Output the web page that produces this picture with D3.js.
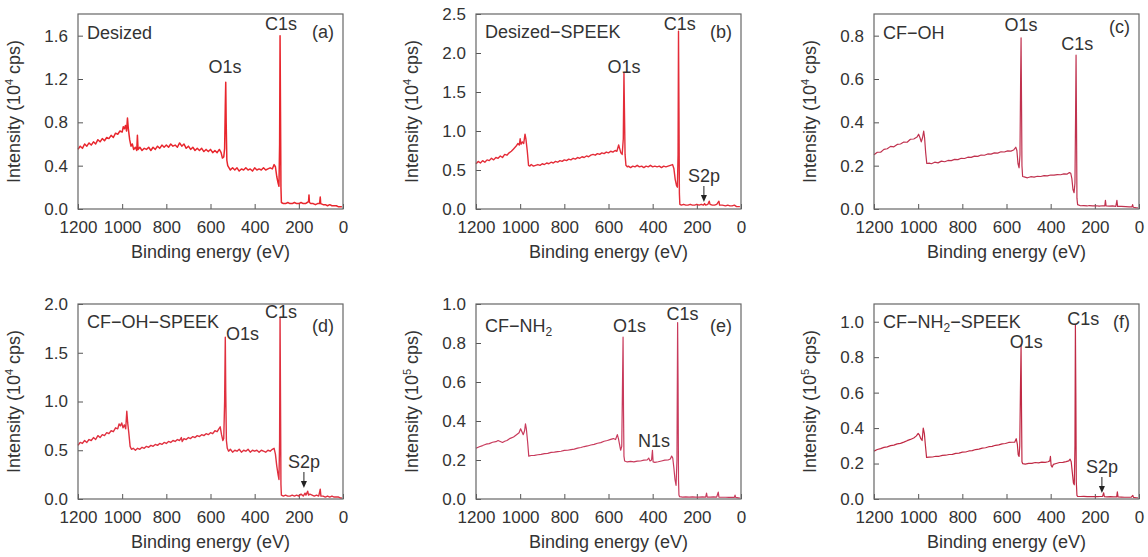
<!DOCTYPE html>
<html>
<head>
  <meta charset="utf8">
  <script src="https://d3js.org/d3.v7.min.js"></script>
  <style>
    body { margin: 0; background: #fff; }
    text { font-family: "Liberation Sans", Arial, sans-serif; fill: #333; }
    .tick text { font-size: 17px; }
    .lbl { font-size: 18px; }
  </style>
</head>
<body>
  <svg id="chart" width="1148" height="557"></svg>
  <script>
    // binding energy (eV), intensity
    var desized = [[1200,0.55],[1190,0.58],[1180,0.56],[1170,0.60],[1160,0.58],[1150,0.61],[1140,0.59],[1130,0.62],[1120,0.60],[1110,0.64],[1100,0.62],[1090,0.65],[1080,0.63],[1070,0.66],[1060,0.65],[1050,0.68],[1040,0.66],[1030,0.70],[1020,0.69],[1010,0.72],[1000,0.71],[995,0.76],[990,0.74],[985,0.77],[980,0.72],[976,0.84],[972,0.74],[966,0.64],[960,0.58],[954,0.60],[948,0.55],[940,0.57],[934,0.54],[931,0.68],[928,0.55],[920,0.57],[910,0.54],[900,0.56],[890,0.55],[880,0.57],[870,0.54],[860,0.57],[850,0.55],[840,0.58],[830,0.56],[820,0.59],[810,0.57],[800,0.59],[790,0.57],[780,0.60],[770,0.58],[760,0.59],[750,0.57],[740,0.61],[730,0.58],[720,0.60],[710,0.56],[700,0.58],[690,0.55],[680,0.57],[670,0.54],[660,0.56],[650,0.54],[640,0.56],[630,0.53],[620,0.55],[610,0.53],[600,0.55],[590,0.52],[580,0.54],[570,0.52],[560,0.55],[552,0.52],[546,0.47],[540,0.48],[536,0.56],[533,0.95],[531,1.17],[529,0.80],[526,0.45],[522,0.40],[516,0.38],[510,0.36],[500,0.38],[490,0.36],[480,0.38],[470,0.35],[460,0.37],[450,0.36],[440,0.38],[430,0.36],[420,0.37],[410,0.35],[400,0.38],[390,0.36],[380,0.37],[370,0.36],[360,0.38],[350,0.36],[340,0.37],[330,0.38],[320,0.37],[312,0.41],[306,0.39],[300,0.30],[294,0.24],[290,0.21],[287,0.60],[285,1.60],[283,0.90],[281,0.20],[279,0.06],[270,0.05],[260,0.05],[250,0.06],[240,0.05],[230,0.05],[220,0.06],[210,0.05],[200,0.05],[190,0.06],[180,0.05],[170,0.05],[162,0.06],[156,0.07],[154,0.13],[152,0.06],[145,0.05],[135,0.05],[125,0.04],[115,0.05],[106,0.05],[103,0.11],[101,0.05],[90,0.04],[80,0.04],[70,0.03],[60,0.04],[50,0.03],[40,0.03],[30,0.03],[20,0.02],[10,0.02],[5,0.02]];

    var desizedSpeek = [[1200,0.58],[1190,0.61],[1180,0.59],[1170,0.62],[1160,0.60],[1150,0.63],[1140,0.62],[1130,0.65],[1120,0.63],[1110,0.66],[1100,0.65],[1090,0.68],[1080,0.66],[1070,0.70],[1060,0.69],[1050,0.72],[1040,0.74],[1030,0.77],[1020,0.80],[1010,0.84],[1004,0.82],[1000,0.90],[996,0.83],[990,0.86],[984,0.84],[978,0.96],[974,0.90],[968,0.75],[962,0.56],[956,0.55],[950,0.57],[940,0.55],[930,0.56],[920,0.57],[910,0.56],[900,0.58],[890,0.57],[880,0.59],[870,0.58],[860,0.60],[850,0.59],[840,0.61],[830,0.60],[820,0.62],[810,0.61],[800,0.63],[790,0.62],[780,0.64],[770,0.63],[760,0.65],[750,0.64],[740,0.66],[730,0.65],[720,0.67],[710,0.66],[700,0.68],[690,0.67],[680,0.69],[670,0.70],[660,0.69],[650,0.71],[640,0.70],[630,0.72],[620,0.71],[610,0.73],[600,0.72],[590,0.74],[580,0.73],[570,0.75],[562,0.74],[554,0.82],[550,0.78],[544,0.72],[538,0.70],[533,0.90],[530,1.74],[528,1.30],[525,0.70],[521,0.56],[515,0.54],[510,0.55],[500,0.53],[490,0.55],[480,0.54],[470,0.56],[460,0.54],[450,0.55],[440,0.53],[430,0.55],[420,0.54],[410,0.56],[400,0.54],[390,0.55],[380,0.54],[370,0.55],[360,0.53],[350,0.55],[340,0.54],[330,0.55],[320,0.56],[310,0.57],[304,0.52],[298,0.38],[292,0.30],[288,0.28],[285,0.70],[283,2.28],[281,1.30],[279,0.20],[277,0.06],[270,0.05],[260,0.06],[250,0.05],[240,0.05],[230,0.06],[220,0.05],[210,0.05],[200,0.06],[190,0.05],[180,0.06],[170,0.05],[165,0.07],[160,0.05],[150,0.06],[144,0.10],[140,0.06],[130,0.05],[120,0.05],[110,0.06],[100,0.10],[97,0.05],[85,0.05],[70,0.04],[60,0.05],[50,0.04],[40,0.04],[30,0.05],[20,0.03],[10,0.03],[5,0.03]];

    var cfOh = [[1200,0.25],[1185,0.262],[1170,0.262],[1155,0.275],[1140,0.278],[1125,0.289],[1110,0.287],[1095,0.298],[1080,0.300],[1065,0.309],[1050,0.308],[1035,0.322],[1020,0.323],[1005,0.332],[998,0.345],[992,0.33],[986,0.31],[980,0.33],[975,0.36],[971,0.33],[966,0.26],[961,0.21],[950,0.212],[940,0.209],[925,0.216],[910,0.213],[895,0.221],[880,0.218],[865,0.224],[850,0.223],[835,0.229],[820,0.228],[805,0.234],[790,0.233],[775,0.239],[760,0.238],[745,0.244],[730,0.243],[715,0.249],[700,0.248],[685,0.254],[670,0.253],[655,0.259],[640,0.258],[625,0.264],[610,0.263],[595,0.268],[580,0.267],[568,0.272],[558,0.285],[553,0.27],[548,0.21],[543,0.19],[539,0.25],[536,0.60],[534,0.79],[532,0.50],[530,0.20],[527,0.15],[520,0.148],[505,0.144],[490,0.149],[475,0.147],[460,0.151],[445,0.150],[430,0.154],[415,0.153],[400,0.157],[385,0.156],[370,0.159],[355,0.158],[340,0.162],[325,0.161],[315,0.168],[309,0.165],[304,0.14],[299,0.09],[294,0.075],[290,0.12],[287,0.45],[285,0.71],[283,0.40],[281,0.05],[278,0.02],[265,0.015],[250,0.016],[235,0.014],[225,0.016],[210,0.014],[195,0.015],[180,0.013],[165,0.015],[155,0.014],[152,0.04],[149,0.014],[135,0.013],[120,0.014],[105,0.012],[100,0.04],[97,0.012],[80,0.012],[60,0.011],[45,0.01],[32,0.01],[29,0.02],[26,0.008],[15,0.006],[5,0.005]];

    var cfOhSpeek = [[1200,0.55],[1190,0.58],[1180,0.57],[1170,0.60],[1160,0.58],[1150,0.61],[1140,0.60],[1130,0.63],[1120,0.61],[1110,0.65],[1100,0.63],[1090,0.66],[1080,0.65],[1070,0.68],[1060,0.67],[1050,0.70],[1040,0.69],[1030,0.73],[1020,0.72],[1014,0.77],[1008,0.75],[1002,0.78],[996,0.73],[990,0.76],[984,0.72],[979,0.90],[975,0.78],[970,0.68],[964,0.54],[958,0.51],[950,0.52],[940,0.50],[930,0.52],[920,0.51],[910,0.53],[900,0.52],[890,0.54],[880,0.53],[870,0.55],[860,0.54],[850,0.56],[840,0.55],[830,0.57],[820,0.56],[810,0.58],[800,0.57],[790,0.59],[780,0.58],[770,0.60],[760,0.59],[750,0.61],[740,0.60],[732,0.63],[728,0.59],[720,0.62],[710,0.61],[700,0.63],[690,0.62],[680,0.64],[670,0.63],[660,0.65],[650,0.64],[640,0.66],[630,0.65],[620,0.67],[610,0.66],[600,0.68],[590,0.67],[580,0.70],[570,0.69],[562,0.72],[556,0.74],[550,0.66],[544,0.60],[540,0.62],[536,1.00],[533,1.66],[531,1.10],[528,0.60],[524,0.52],[518,0.49],[510,0.51],[500,0.48],[490,0.50],[480,0.49],[470,0.51],[460,0.48],[450,0.50],[440,0.49],[430,0.51],[420,0.48],[410,0.50],[400,0.49],[390,0.50],[380,0.48],[370,0.50],[360,0.49],[350,0.48],[340,0.50],[330,0.49],[320,0.51],[312,0.52],[306,0.46],[300,0.34],[294,0.25],[290,0.20],[287,0.60],[285,1.86],[283,1.00],[281,0.15],[279,0.04],[270,0.03],[260,0.04],[250,0.03],[240,0.03],[230,0.04],[220,0.03],[210,0.04],[200,0.03],[190,0.05],[180,0.03],[172,0.06],[168,0.04],[160,0.08],[156,0.04],[150,0.05],[140,0.04],[130,0.03],[120,0.04],[110,0.03],[103,0.10],[100,0.03],[90,0.03],[80,0.02],[70,0.03],[60,0.02],[50,0.03],[40,0.02],[30,0.02],[20,0.02],[10,0.01],[5,0.01]];

    var cfNh2 = [[1200,0.26],[1185,0.268],[1170,0.274],[1155,0.281],[1140,0.284],[1125,0.291],[1110,0.294],[1100,0.30],[1090,0.295],[1080,0.29],[1070,0.296],[1060,0.30],[1045,0.311],[1030,0.318],[1015,0.331],[1005,0.34],[998,0.36],[992,0.345],[986,0.33],[980,0.35],[976,0.385],[972,0.36],[966,0.29],[961,0.22],[950,0.223],[935,0.224],[920,0.227],[905,0.229],[890,0.233],[875,0.234],[860,0.239],[845,0.24],[830,0.243],[815,0.245],[800,0.249],[785,0.25],[770,0.253],[755,0.256],[740,0.261],[725,0.264],[710,0.269],[695,0.272],[680,0.277],[665,0.28],[650,0.286],[635,0.289],[620,0.296],[605,0.30],[590,0.306],[578,0.31],[568,0.305],[560,0.33],[555,0.31],[550,0.28],[545,0.25],[540,0.27],[537,0.55],[534,0.83],[532,0.45],[530,0.22],[527,0.195],[515,0.19],[500,0.193],[485,0.19],[470,0.194],[455,0.195],[440,0.199],[425,0.20],[418,0.21],[412,0.195],[405,0.20],[401,0.25],[398,0.19],[390,0.188],[375,0.191],[360,0.195],[345,0.199],[330,0.20],[320,0.205],[314,0.22],[309,0.21],[304,0.16],[299,0.10],[294,0.07],[290,0.20],[287,0.905],[285,0.60],[283,0.10],[281,0.02],[278,0.012],[265,0.01],[250,0.011],[235,0.01],[220,0.011],[205,0.01],[190,0.01],[175,0.011],[160,0.01],[156,0.03],[153,0.01],[140,0.01],[125,0.011],[110,0.01],[103,0.035],[100,0.01],[85,0.009],[70,0.009],[55,0.008],[40,0.008],[30,0.008],[27,0.02],[24,0.008],[12,0.006],[5,0.005]];

    var cfNh2Speek = [[1200,0.27],[1185,0.279],[1170,0.284],[1155,0.291],[1140,0.294],[1125,0.301],[1110,0.304],[1095,0.311],[1080,0.314],[1065,0.321],[1050,0.329],[1035,0.336],[1020,0.344],[1008,0.356],[1000,0.37],[994,0.36],[988,0.34],[982,0.33],[977,0.40],[972,0.37],[967,0.30],[962,0.235],[950,0.236],[935,0.237],[920,0.241],[905,0.241],[890,0.246],[875,0.247],[860,0.251],[845,0.252],[830,0.257],[815,0.259],[800,0.264],[785,0.265],[770,0.271],[755,0.273],[740,0.279],[725,0.281],[710,0.287],[695,0.289],[680,0.295],[665,0.297],[650,0.303],[635,0.305],[620,0.311],[605,0.313],[590,0.319],[575,0.32],[563,0.32],[556,0.34],[551,0.31],[547,0.25],[543,0.24],[540,0.30],[537,0.60],[534,0.87],[532,0.50],[530,0.21],[527,0.20],[515,0.197],[500,0.201],[485,0.201],[470,0.206],[455,0.204],[440,0.208],[425,0.207],[412,0.21],[404,0.215],[401,0.24],[398,0.19],[393,0.18],[388,0.195],[375,0.20],[360,0.206],[345,0.207],[330,0.211],[318,0.215],[312,0.225],[307,0.21],[302,0.15],[297,0.09],[293,0.08],[290,0.30],[288,0.98],[286,0.60],[284,0.10],[281,0.02],[278,0.015],[265,0.014],[250,0.015],[235,0.013],[220,0.014],[205,0.013],[190,0.013],[175,0.014],[165,0.015],[160,0.035],[157,0.013],[145,0.012],[130,0.013],[115,0.012],[101,0.012],[98,0.04],[95,0.012],[80,0.011],[65,0.01],[50,0.01],[35,0.01],[28,0.02],[25,0.009],[12,0.007],[5,0.006]];

    var xTicks = [1200, 1000, 800, 600, 400, 200, 0];

    var panels = [
      { data: desized, left: 78, top: 14, ymax: 1.8, step: 0.4, exp: '4', color: '#e8262d', sw: 1.5,
        name: 'Desized', tag: '(a)', nameTop: 25, tagTop: 24,
        peaks: [{ t: 'O1s', x: 534, top: 59 }, { t: 'C1s', x: 281, top: 16 }] },
      { data: desizedSpeek, left: 476, top: 14, ymax: 2.5, step: 0.5, exp: '4', color: '#e42c38', sw: 1.4,
        name: 'Desized\u2212SPEEK', tag: '(b)', nameTop: 24, tagTop: 24,
        peaks: [{ t: 'O1s', x: 530, top: 59 }, { t: 'C1s', x: 277, top: 16 }],
        arrow: { x: 168, top: 168 } },
      { data: cfOh, left: 874, top: 14, ymax: 0.9, step: 0.2, exp: '4', color: '#c0324f', sw: 1.2,
        name: 'CF\u2212OH', tag: '(c)', nameTop: 25, tagTop: 19,
        peaks: [{ t: 'O1s', x: 534, top: 17 }, { t: 'C1s', x: 280, top: 36 }] },
      { data: cfOhSpeek, left: 78, top: 304, ymax: 2.0, step: 0.5, exp: '4', color: '#e0303f', sw: 1.4,
        name: 'CF\u2212OH\u2212SPEEK', tag: '(d)', nameTop: 24, tagTop: 28,
        peaks: [{ t: 'O1s', x: 455, top: 36 }, { t: 'C1s', x: 281, top: 14 }],
        arrow: { x: 177, top: 164 } },
      { data: cfNh2, left: 476, top: 304, ymax: 1.0, step: 0.2, exp: '5', color: '#c83a5c', sw: 1.2,
        name: 'CF\u2212NH', sub: '2', tag: '(e)', nameTop: 28, tagTop: 28,
        peaks: [{ t: 'O1s', x: 505, top: 28 }, { t: 'C1s', x: 265, top: 16 }, { t: 'N1s', x: 394, top: 143 }] },
      { data: cfNh2Speek, left: 874, top: 304, ymax: 1.1, step: 0.2, exp: '5', color: '#c02a45', sw: 1.2,
        name: 'CF\u2212NH', sub: '2', tail: '\u2212SPEEK', tag: '(f)', nameTop: 24, tagTop: 24,
        peaks: [{ t: 'O1s', x: 511, top: 44 }, { t: 'C1s', x: 252, top: 21 }],
        arrow: { x: 168, top: 169 } }
    ];

    var W = 265, H = 195;
    var svg = d3.select('#chart');

    panels.forEach(function (p) {
      var g = svg.append('g').attr('transform', 'translate(' + p.left + ',' + p.top + ')');
      var x = d3.scaleLinear().domain([1200, 0]).range([0, W]);
      var y = d3.scaleLinear().domain([0, p.ymax]).range([H, 0]);
      var yTicks = d3.range(0, p.ymax + 1e-9, p.step);

      g.append('g')
        .attr('transform', 'translate(0,' + H + ')')
        .call(d3.axisBottom(x).tickValues(xTicks).tickFormat(d3.format('d')).tickSizeInner(-5).tickSizeOuter(0).tickPadding(12))
        .call(function (a) { a.select('.domain').remove(); a.selectAll('line').attr('stroke', '#555'); });

      g.append('g')
        .call(d3.axisLeft(y).tickValues(yTicks).tickFormat(d3.format('.1f')).tickSizeInner(-5).tickSizeOuter(0).tickPadding(10))
        .call(function (a) { a.select('.domain').remove(); a.selectAll('line').attr('stroke', '#555'); });

      g.selectAll('.tick text').attr('fill', '#333').attr('font-family', null);

      var line = d3.line().x(function (d) { return x(d[0]); }).y(function (d) { return y(d[1]); });
      g.append('path')
        .datum(p.data)
        .attr('fill', 'none')
        .attr('stroke', p.color)
        .attr('stroke-width', p.sw)
        .attr('stroke-linejoin', 'round')
        .attr('d', line);

      g.append('rect')
        .attr('width', W).attr('height', H)
        .attr('fill', 'none').attr('stroke', '#666').attr('stroke-width', 1.2);

      // sample name
      var nm = g.append('text').attr('class', 'lbl').attr('x', 9).attr('y', p.nameTop).text(p.name);
      if (p.sub) {
        nm.append('tspan').attr('font-size', '12px').attr('dy', 4).text(p.sub);
        if (p.tail) nm.append('tspan').attr('dy', -4).text(p.tail);
      }
      g.append('text').attr('class', 'lbl').attr('x', W - 9).attr('y', p.tagTop)
        .attr('text-anchor', 'end').text(p.tag);

      p.peaks.forEach(function (k) {
        g.append('text').attr('class', 'lbl').attr('x', x(k.x)).attr('y', k.top)
          .attr('text-anchor', 'middle').text(k.t);
      });

      if (p.arrow) {
        var ax = x(p.arrow.x);
        g.append('text').attr('class', 'lbl').attr('x', ax).attr('y', p.arrow.top)
          .attr('text-anchor', 'middle').text('S2p');
        g.append('line').attr('x1', ax).attr('x2', ax)
          .attr('y1', p.arrow.top + 4).attr('y2', p.arrow.top + 16)
          .attr('stroke', '#222').attr('stroke-width', 1);
        g.append('path')
          .attr('d', 'M' + (ax - 3) + ',' + (p.arrow.top + 13) + 'L' + (ax + 3) + ',' + (p.arrow.top + 13) + 'L' + ax + ',' + (p.arrow.top + 20) + 'Z')
          .attr('fill', '#222');
      }

      // axis titles
      g.append('text').attr('class', 'lbl')
        .attr('x', W / 2).attr('y', H + 49)
        .attr('text-anchor', 'middle').text('Binding energy (eV)');

      var yt = g.append('text').attr('class', 'lbl')
        .attr('transform', 'translate(-58,' + H / 2 + ') rotate(-90)')
        .attr('text-anchor', 'middle');
      yt.append('tspan').text('Intensity (10');
      yt.append('tspan').attr('font-size', '11px').attr('dy', -7).text(p.exp);
      yt.append('tspan').attr('dy', 7).text(' cps)');
    });
  </script>
</body>
</html>
